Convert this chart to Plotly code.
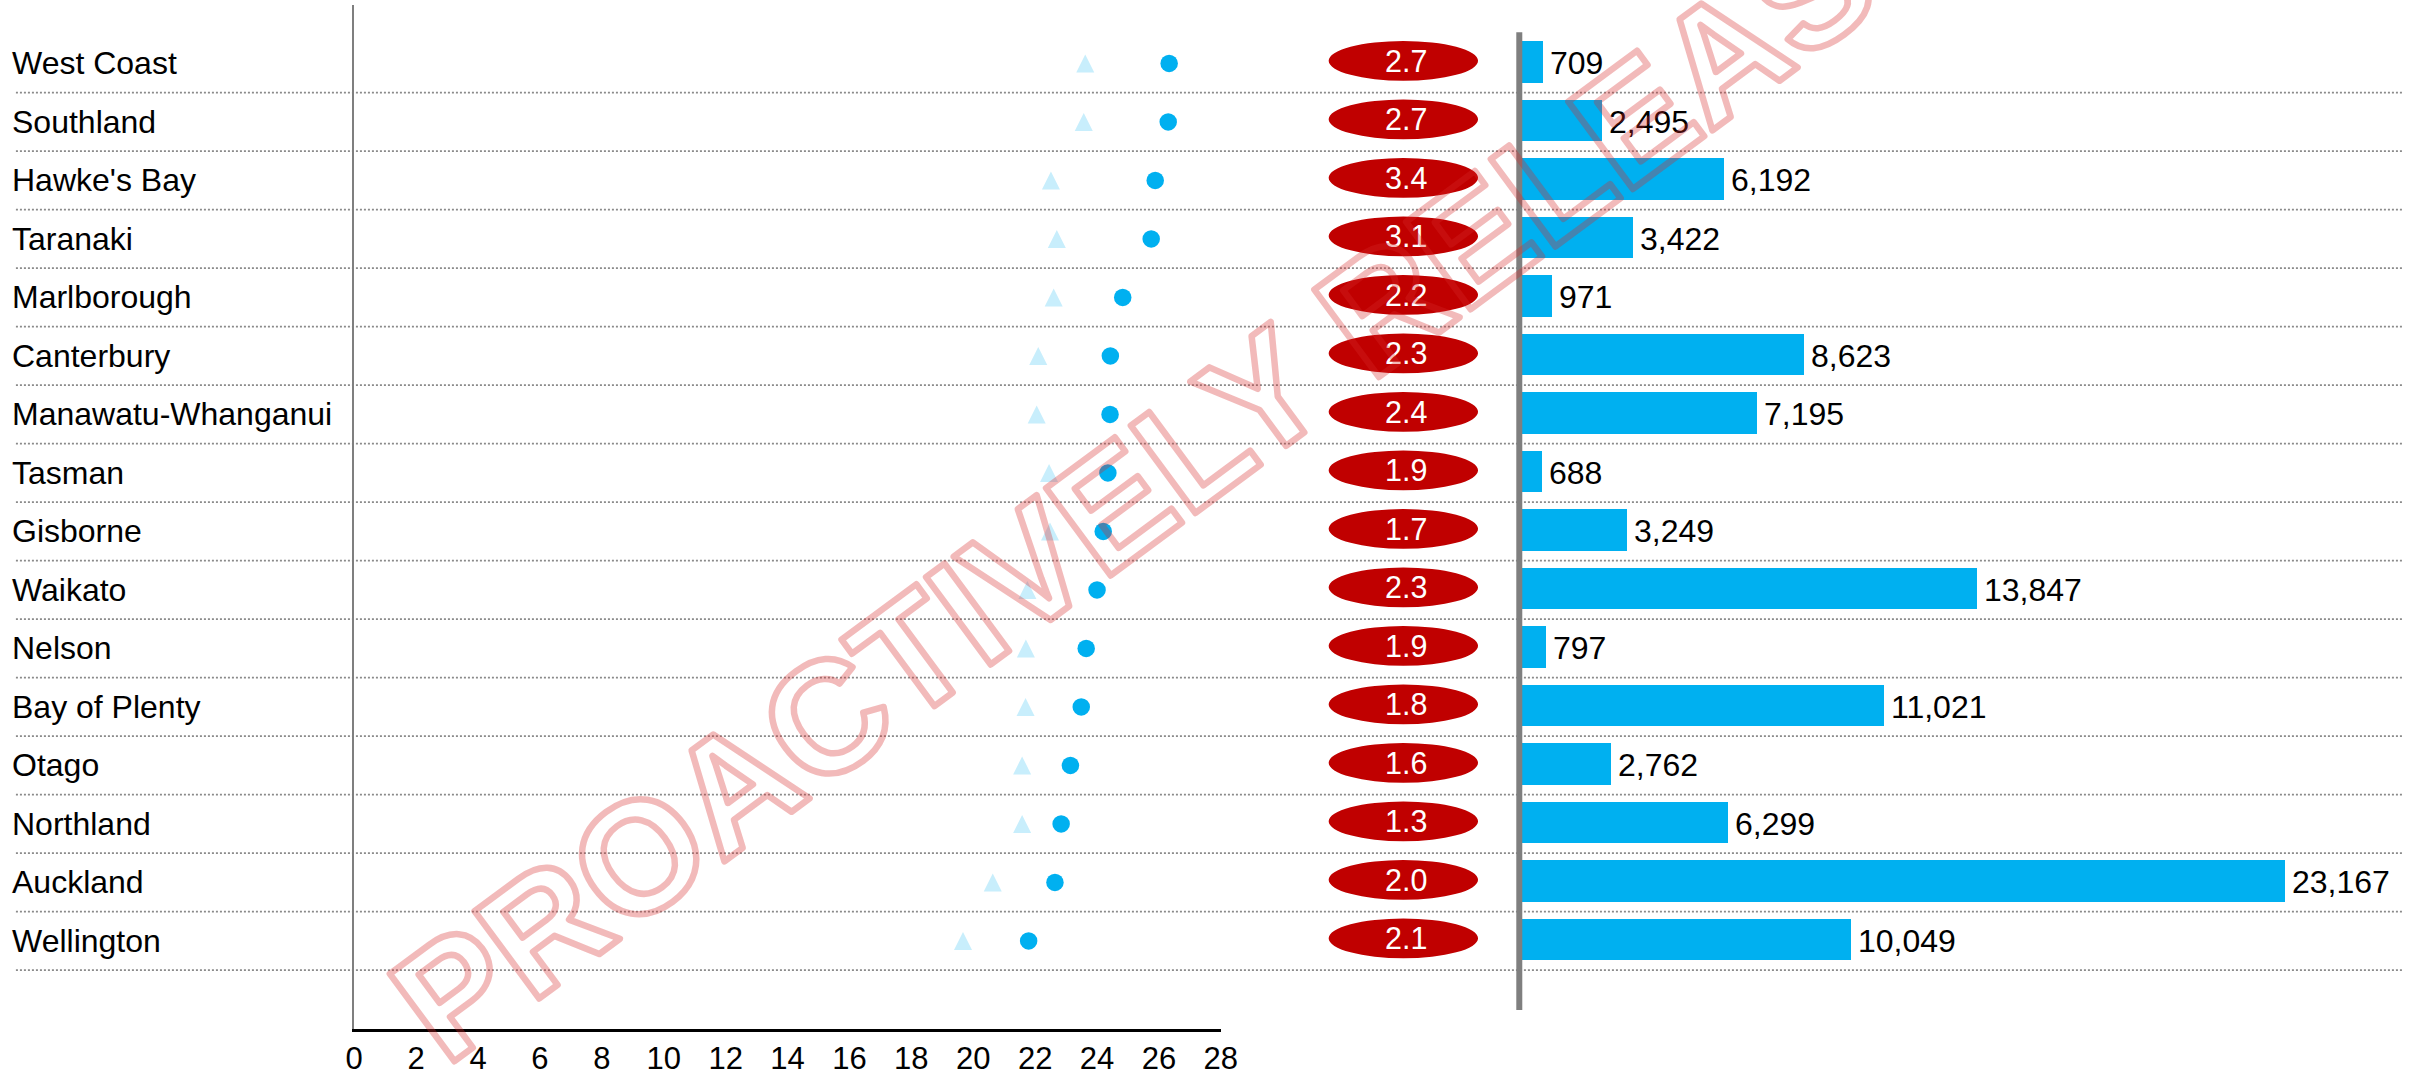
import plotly.graph_objects as go

# ---- data -------------------------------------------------------------
regions = [
    "West Coast", "Southland", "Hawke's Bay", "Taranaki", "Marlborough",
    "Canterbury", "Manawatu-Whanganui", "Tasman", "Gisborne", "Waikato",
    "Nelson", "Bay of Plenty", "Otago", "Northland", "Auckland", "Wellington",
]
earlier_rate = [23.62, 23.57, 22.51, 22.70, 22.60, 22.10, 22.05, 22.45,
                22.48, 21.75, 21.70, 21.69, 21.58, 21.58, 20.63, 19.67]
current_rate = [26.33, 26.30, 25.88, 25.75, 24.83, 24.43, 24.42, 24.35,
                24.20, 24.00, 23.65, 23.49, 23.14, 22.84, 22.64, 21.79]
change_pts = [2.7, 2.7, 3.4, 3.1, 2.2, 2.3, 2.4, 1.9,
              1.7, 2.3, 1.9, 1.8, 1.6, 1.3, 2.0, 2.1]
counts = [709, 2495, 6192, 3422, 971, 8623, 7195, 688,
          3249, 13847, 797, 11021, 2762, 6299, 23167, 10049]
rate_ticks = list(range(0, 29, 2))

# ---- page geometry (pixels) --------------------------------------------
W, H = 2419, 1076
ROW0, ROW_H = 63.4, 58.5          # centre of first row, row pitch
PLOT_TOP, PLOT_BOTTOM = 5, 1029
DOT_LEFT, DOT_RIGHT = 349, 1225
BAR_LEFT = 1527
BAR_MAX = 26723
BAR_W = 0.713
TRI_SIZE = 18

FONT = "Liberation Sans, Arial, sans-serif"
BLUE = "#00B0F0"
PALE = "#C8EEFC"
RED = "#C00000"
STAMP = "rgba(215,40,40,0.32)"


def fx(p):
    return p / W


def fy(p):
    return 1 - p / H


def row_range(lift_px=0.0):
    """y range (reversed) so that row i sits at ROW0 + i*ROW_H - lift_px."""
    top = (PLOT_TOP - ROW0 + lift_px) / ROW_H
    bottom = (PLOT_BOTTOM - ROW0 + lift_px) / ROW_H
    return [bottom, top]


rows = list(range(len(regions)))

fig = go.Figure()

# current rate (circles)
fig.add_trace(go.Scatter(
    x=current_rate, y=rows, mode="markers", xaxis="x", yaxis="y",
    marker=dict(symbol="circle", size=17.5, color=BLUE, line=dict(width=0)),
    hoverinfo="skip", showlegend=False, cliponaxis=False,
))
# earlier rate (triangles); the arrow symbol has its apex at the point, so it
# is drawn on an overlaid axis lifted by half a marker
fig.add_trace(go.Scatter(
    x=earlier_rate, y=rows, mode="markers", xaxis="x", yaxis="y3",
    marker=dict(symbol="arrow-up", size=TRI_SIZE, color=PALE, line=dict(width=0)),
    hoverinfo="skip", showlegend=False, cliponaxis=False,
))
# counts (bars)
fig.add_trace(go.Bar(
    x=counts, y=rows, orientation="h", xaxis="x2", yaxis="y",
    marker=dict(color=BLUE, line=dict(width=0)),
    width=BAR_W, offset=-BAR_W / 2 - 1.5 / ROW_H,
    hoverinfo="skip", showlegend=False,
))

shapes = []
annotations = []

# dotted row separators
for i in rows:
    shapes.append(dict(
        type="line", xref="paper", yref="y", layer="below",
        x0=fx(7), x1=1, y0=i + 0.5, y1=i + 0.5,
        line=dict(color="#8a8a8a", width=1.6, dash="2px,2px"),
    ))

# grey divider in front of the bars
shapes.append(dict(
    type="line", xref="paper", yref="paper",
    x0=fx(1526.7), x1=fx(1526.7), y0=fy(1010), y1=fy(32.3),
    line=dict(color="#7f7f7f", width=6),
))

# red ellipses carrying the change in points
EL_CX, EL_W, EL_H, EL_DY = 1409.5, 151.0, 39.7, -2.6
for i, v in enumerate(change_pts):
    yc = i + EL_DY / ROW_H
    shapes.append(dict(
        type="circle", xref="paper", yref="y", layer="above",
        x0=fx(EL_CX - EL_W / 2), x1=fx(EL_CX + EL_W / 2),
        y0=yc - EL_H / 2 / ROW_H, y1=yc + EL_H / 2 / ROW_H,
        fillcolor=RED, line=dict(width=0),
    ))
    annotations.append(dict(
        xref="paper", yref="y", x=fx(EL_CX), y=yc, text=f"{v:.1f}",
        showarrow=False, xanchor="center", yanchor="middle", xshift=3,
        font=dict(family=FONT, size=30.5, color="white"),
    ))

# region names
for i, name in enumerate(regions):
    annotations.append(dict(
        xref="paper", yref="y", x=fx(1), y=i, text=name,
        showarrow=False, xanchor="left", yanchor="middle",
        font=dict(family=FONT, size=32, color="black"),
    ))

# bar value labels
for i, c in enumerate(counts):
    annotations.append(dict(
        xref="x2", yref="y", x=c, y=i, text=f"{c:,}",
        showarrow=False, xanchor="left", yanchor="middle", xshift=5,
        font=dict(family=FONT, size=32, color="black"),
    ))

# watermark
annotations.append(dict(
    xref="paper", yref="paper", x=0.5068, y=0.605,
    text="PROACTIVELY RELEASED", showarrow=False, textangle=-36.5,
    xanchor="center", yanchor="middle",
    font=dict(family=FONT, size=158, weight="bold", color=STAMP),
))

fig.update_layout(
    width=W, height=H, autosize=False,
    margin=dict(l=0, r=0, t=0, b=0, pad=0),
    paper_bgcolor="white", plot_bgcolor="rgba(0,0,0,0)",
    font=dict(family=FONT, color="black"),
    showlegend=False, bargap=0,
    xaxis=dict(
        domain=[fx(DOT_LEFT), fx(DOT_RIGHT)], range=[0, 28],
        tickvals=rate_ticks, ticktext=[str(t) for t in rate_ticks],
        tickfont=dict(family=FONT, size=31, color="black"),
        showline=True, linecolor="black", linewidth=2.5,
        showgrid=False, zeroline=False, ticks="", anchor="y",
        fixedrange=True,
    ),
    xaxis2=dict(
        domain=[fx(BAR_LEFT), 1.0], range=[0, BAR_MAX],
        visible=False, anchor="y", fixedrange=True,
    ),
    yaxis=dict(
        domain=[fy(PLOT_BOTTOM), fy(PLOT_TOP)], range=row_range(),
        showline=True, linecolor="#7f7f7f", linewidth=2,
        showticklabels=False, showgrid=False, zeroline=False, ticks="",
        anchor="x", fixedrange=True,
    ),
    yaxis3=dict(
        domain=[fy(PLOT_BOTTOM), fy(PLOT_TOP)],
        range=row_range(TRI_SIZE / 2),
        overlaying="y", visible=False, anchor="x", fixedrange=True,
    ),
    shapes=shapes,
    annotations=annotations,
)

# the watermark is drawn as an outline (stroked glyphs, hollow inside)
outline_js = """
var gd = document.getElementById('{plot_id}');
gd.querySelectorAll('text.annotation-text').forEach(function (t) {
  if (t.textContent === 'PROACTIVELY RELEASED') {
    t.style.fill = 'none';
    t.style.fillOpacity = '0';
    t.style.stroke = '%s';
    t.style.strokeWidth = '6.5px';
    t.style.strokeLinejoin = 'round';
  }
});
""" % STAMP

fig.write_html("out.html", config={"displayModeBar": False, "staticPlot": True},
               post_script=outline_js)
